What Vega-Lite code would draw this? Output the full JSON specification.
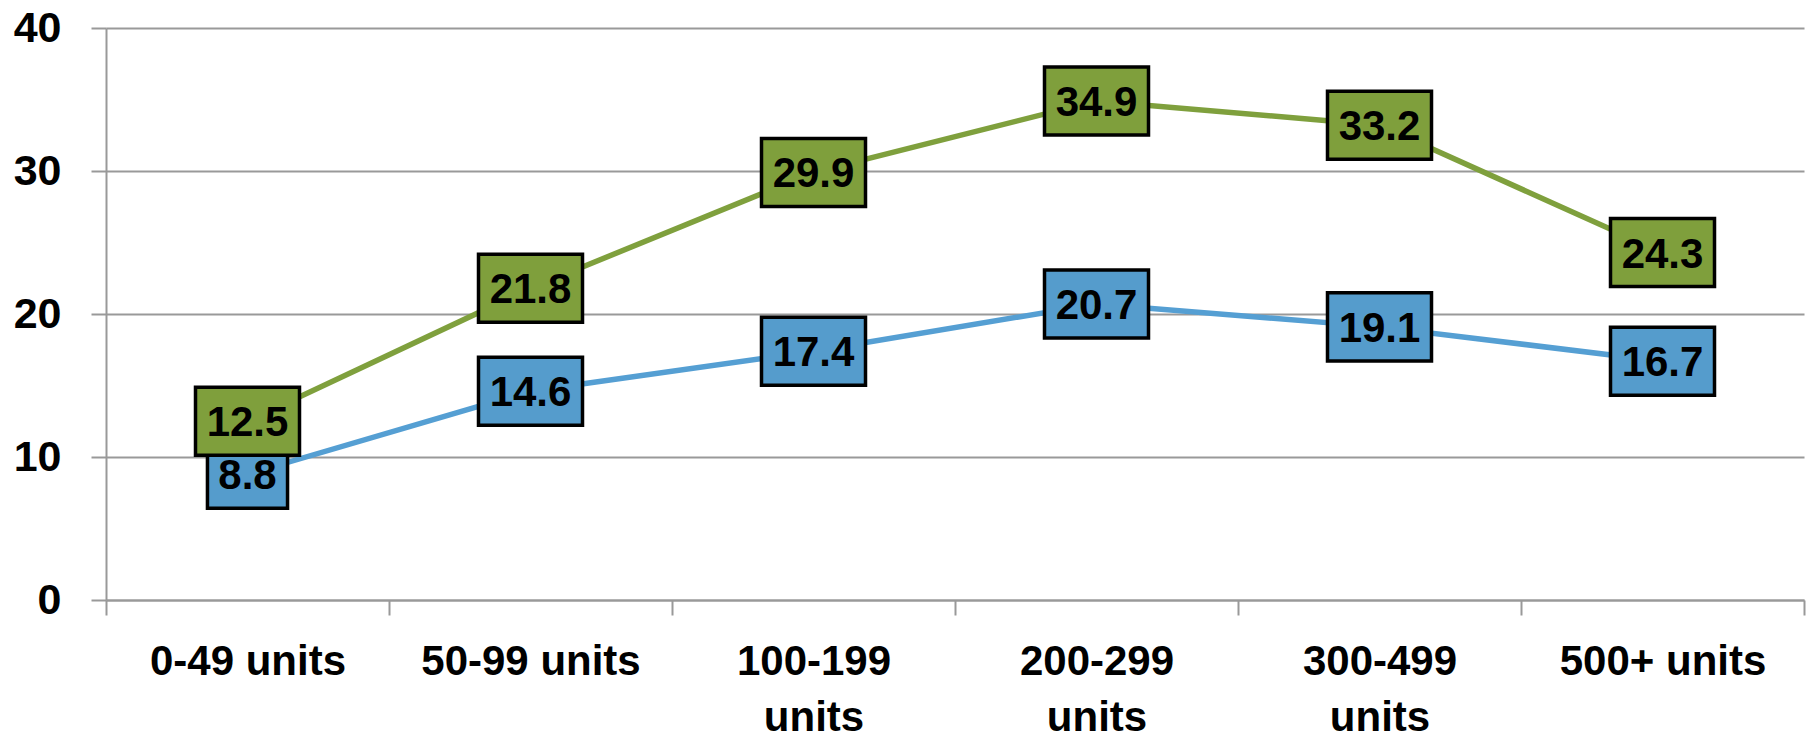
{
  "$schema": "https://vega.github.io/schema/vega-lite/v6.json",
  "width": 1698,
  "height": 572,
  "autosize": "none",
  "padding": {"left": 106, "top": 28, "right": 6, "bottom": 140},
  "background": "white",
  "config": {
    "view": {"stroke": null},
    "font": "Liberation Sans"
  },
  "data": {
    "values": [
      {"category": "0-49 units", "series": "Series 1", "value": 8.8},
      {"category": "50-99 units", "series": "Series 1", "value": 14.6},
      {"category": "100-199 units", "series": "Series 1", "value": 17.4},
      {"category": "200-299 units", "series": "Series 1", "value": 20.7},
      {"category": "300-499 units", "series": "Series 1", "value": 19.1},
      {"category": "500+ units", "series": "Series 1", "value": 16.7},
      {"category": "0-49 units", "series": "Series 2", "value": 12.5},
      {"category": "50-99 units", "series": "Series 2", "value": 21.8},
      {"category": "100-199 units", "series": "Series 2", "value": 29.9},
      {"category": "200-299 units", "series": "Series 2", "value": 34.9},
      {"category": "300-499 units", "series": "Series 2", "value": 33.2},
      {"category": "500+ units", "series": "Series 2", "value": 24.3}
    ]
  },
  "encoding": {
    "x": {
      "field": "category",
      "type": "nominal",
      "sort": null,
      "scale": {"type": "band", "paddingInner": 0, "paddingOuter": 0},
      "axis": {
        "title": null,
        "labelAngle": 0,
        "tickBand": "extent",
        "domainColor": "#999999",
        "domainWidth": 2,
        "tickColor": "#999999",
        "tickWidth": 2,
        "tickSize": 15,
        "labelFont": "Liberation Sans",
        "labelFontWeight": "bold",
        "labelFontSize": 42,
        "labelColor": "#000000",
        "labelPadding": 26,
        "labelLimit": 0,
        "labelLineHeight": 56,
        "labelExpr": "length(datum.label) > 11 ? split(datum.label, ' ') : datum.label"
      }
    },
    "y": {
      "field": "value",
      "type": "quantitative",
      "scale": {"domain": [0, 40]},
      "axis": {
        "title": null,
        "values": [0, 10, 20, 30, 40],
        "grid": true,
        "gridColor": "#999999",
        "gridWidth": 2,
        "domainColor": "#999999",
        "domainWidth": 2,
        "tickColor": "#999999",
        "tickWidth": 2,
        "tickSize": 15,
        "labelFont": "Liberation Sans",
        "labelFontWeight": "bold",
        "labelFontSize": 43,
        "labelColor": "#000000",
        "labelPadding": 30
      }
    }
  },
  "layer": [
    {
      "mark": {"type": "line", "strokeWidth": 5.5},
      "encoding": {
        "color": {
          "field": "series",
          "type": "nominal",
          "scale": {"domain": ["Series 1", "Series 2"], "range": ["#559fd3", "#7fa03d"]},
          "legend": null
        }
      }
    },
    {
      "mark": {"type": "point", "filled": true, "opacity": 1, "stroke": "#000000", "strokeWidth": 3.5, "size": 10816},
      "encoding": {
        "fill": {
          "field": "series",
          "type": "nominal",
          "scale": {"domain": ["Series 1", "Series 2"], "range": ["#559ccc", "#7f9f3c"]},
          "legend": null
        },
        "shape": {
          "condition": {"test": "datum.value < 10", "value": "M-0.77,-0.654L0.77,-0.654L0.77,0.654L-0.77,0.654Z"},
          "value": "M-1,-0.654L1,-0.654L1,0.654L-1,0.654Z"
        }
      }
    },
    {
      "mark": {"type": "text", "font": "Liberation Sans", "fontWeight": "bold", "fontSize": 42, "color": "#000000", "baseline": "middle", "align": "center", "dy": 2},
      "encoding": {
        "text": {"field": "value", "type": "quantitative", "format": ".1f"}
      }
    }
  ]
}
